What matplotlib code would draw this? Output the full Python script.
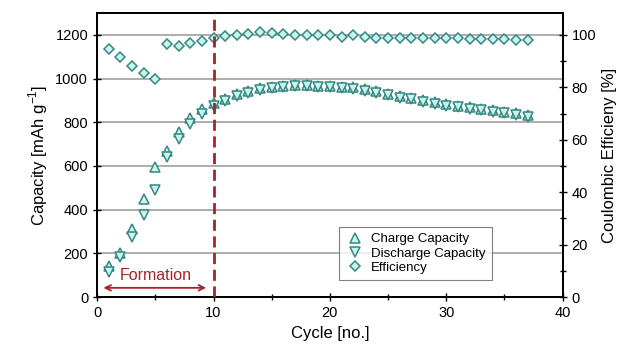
import matplotlib
matplotlib.use("Agg")
from matplotlib import pyplot as plt
from matplotlib.ticker import MultipleLocator

plt.rcParams['font.family'] = ['Liberation Sans', 'DejaVu Sans']

cycles = list(range(1, 38))
charge = [140, 200, 311, 447, 597, 670, 757, 818, 860, 890,
          908, 928, 942, 955, 963, 968, 969, 969, 966, 965,
          963, 960, 951, 943, 931, 920, 913, 902, 893, 883,
          875, 870, 863, 855, 849, 841, 834]
discharge = [115, 185, 273, 375, 490, 640, 722, 792, 838, 875,
             898, 920, 936, 950, 958, 963, 964, 964, 961, 960,
             957, 953, 944, 936, 924, 913, 906, 895, 886, 876,
             868, 863, 856, 848, 842, 834, 826]
efficiency = [94.7, 91.7, 88.3, 85.4, 83.1, 96.5, 95.6, 97.1, 97.8, 98.8,
              99.7, 100.0, 100.4, 101.0, 100.7, 100.3, 100.0, 100.0, 99.9, 100.0,
              99.4, 99.9, 99.2, 99.0, 99.0, 99.0, 99.0, 98.8, 99.0, 98.8,
              98.8, 98.6, 98.6, 98.6, 98.6, 98.1, 98.1]

edge = '#368880'
face = '#c8f4ef'
red = '#a8222c'

fig, ax = plt.subplots(figsize=(6.19, 3.54), dpi=100)
fig.subplots_adjust(left=0.157, right=0.909, top=0.963, bottom=0.161)
ax2 = ax.twinx()

ax.set_xlim(0, 40)
ax.set_ylim(0, 1300)
ax2.set_ylim(0, 1300 / 12)

ax.yaxis.set_major_locator(MultipleLocator(200))
ax.xaxis.set_major_locator(MultipleLocator(10))
ax.xaxis.set_minor_locator(MultipleLocator(5))
ax2.yaxis.set_major_locator(MultipleLocator(20))
ax2.yaxis.set_minor_locator(MultipleLocator(10))
ax.grid(axis='y', color='#a0a0a0', linewidth=1.2)
ax.set_axisbelow(True)

for a in (ax, ax2):
    a.tick_params(which='both', direction='inout', labelsize=10.5, width=1)
    a.tick_params(which='major', length=6)
    a.tick_params(which='minor', length=4)
    for s in a.spines.values():
        s.set_linewidth(1.3)

h1, = ax.plot(cycles, charge, '^', ms=6.5, mfc=face, mec=edge, mew=1.1,
              linestyle='none', label='Charge Capacity', zorder=3)
h2, = ax.plot(cycles, discharge, 'v', ms=6.5, mfc=face, mec=edge, mew=1.1,
              linestyle='none', label='Discharge Capacity', zorder=3)
h3, = ax2.plot(cycles, efficiency, 'D', ms=5.5, mfc=face, mec=edge, mew=1.1,
               linestyle='none', label='Efficiency', zorder=3)

ax2.axvline(10, color=red, linestyle=(0, (4, 2)), linewidth=2, zorder=4)
ax.annotate('', xy=(0.3, 42), xytext=(9.6, 42),
            arrowprops=dict(arrowstyle='<->', color=red, lw=1.3))
ax.text(1.9, 100, 'Formation', color=red, fontsize=11.5, va='center')

ax.set_xlabel('Cycle [no.]', fontsize=12)
ax.set_ylabel('Capacity [mAh g$^{\\mathregular{-1}}$]', fontsize=12)
ax2.set_ylabel('Coulombic Efficieny [%]', fontsize=12)

leg = ax2.legend(handles=[h1, h2, h3], loc='lower left',
                 bbox_to_anchor=(0.506, 0.035), fontsize=9.5, frameon=True,
                 fancybox=False, edgecolor='#606060', borderpad=0.5,
                 handletextpad=0.5, labelspacing=0.15, handlelength=1.4)
leg.get_frame().set_linewidth(0.8)

fig.savefig('out.png', dpi=100)
